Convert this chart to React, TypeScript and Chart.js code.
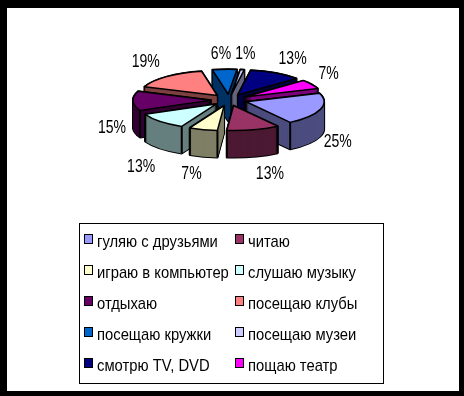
import React, { useEffect, useRef } from "react";
import { Chart, registerables } from "chart.js";

Chart.register(...registerables);

const categories = [
  "гуляю с друзьями", "читаю", "играю в компьютер", "слушаю музыку", "отдыхаю",
  "посещаю клубы", "посещаю кружки", "посещаю музеи", "смотрю TV, DVD", "пощаю театр",
];
const shares = [25, 13, 7, 13, 15, 19, 6, 1, 13, 7];
const topColors = ["#9999FF", "#993366", "#FFFFCC", "#CCFFFF", "#660066", "#FF8080", "#0066CC", "#CCCCFF", "#000080", "#FF00FF"];
const sideColors = ["#4C4C7F", "#4C1933", "#7F7F66", "#667F7F", "#330033", "#7F4040", "#003366", "#66667F", "#000040", "#7F007F"];
const labelNudges = [[4, 4], [13, 13], [-8, 13], [-9, 15.5], [-7, 0], [-12, -11], [-3, -11], [1, -11], [10, -10], [5, -8]];

const SQUASH = 0.32;
const DEPTH = 27;
const EXPLODE = 18;
const LABEL_RADIUS = 110;
const FONT = '"Liberation Sans", Arial, sans-serif';

const pie3d = {
  id: "pie3d",
  beforeDraw(chart: any) {
    const { ctx, width, height } = chart;
    ctx.save();
    ctx.fillStyle = "#000";
    ctx.fillRect(0, 0, width, height);
    ctx.fillStyle = "#fff";
    ctx.fillRect(7, 8, width - 12, height - 13);
    ctx.restore();
  },
  beforeDatasetDraw(chart: any) {
    const { ctx } = chart;
    const arcs = chart.getDatasetMeta(0).data;
    const items = arcs.map((arc: any, i: number) => {
      const { x, y, startAngle, endAngle, outerRadius } = arc.getProps(["x", "y", "startAngle", "endAngle", "outerRadius"], true);
      const mid = (startAngle + endAngle) / 2;
      return { i, x, y, startAngle, endAngle, r: outerRadius, mid };
    });
    items.sort((a: any, b: any) => Math.sin(a.mid) - Math.sin(b.mid));

    const wedge = (it: any, d: number) => {
      const ox = it.x + EXPLODE * Math.cos(it.mid);
      const oy = it.y + EXPLODE * Math.sin(it.mid) * SQUASH + d;
      ctx.beginPath();
      ctx.save();
      ctx.translate(ox, oy);
      ctx.scale(1, SQUASH);
      ctx.moveTo(0, 0);
      ctx.arc(0, 0, it.r, it.startAngle, it.endAngle);
      ctx.closePath();
      ctx.restore();
    };

    ctx.save();
    ctx.lineJoin = "round";
    for (const it of items) {
      ctx.strokeStyle = "#000";
      ctx.lineWidth = 2;
      for (let d = DEPTH; d >= 0; d -= 1) {
        wedge(it, d);
        ctx.stroke();
      }
      ctx.fillStyle = sideColors[it.i];
      for (let d = DEPTH; d >= 0; d -= 1) {
        wedge(it, d);
        ctx.fill();
      }
      const ox = it.x + EXPLODE * Math.cos(it.mid);
      const oy = it.y + EXPLODE * Math.sin(it.mid) * SQUASH;
      for (const a of [it.startAngle, it.endAngle]) {
        if (Math.sin(a) > 0) {
          const px = ox + it.r * Math.cos(a);
          const py = oy + it.r * Math.sin(a) * SQUASH;
          ctx.beginPath();
          ctx.moveTo(px, py);
          ctx.lineTo(px, py + DEPTH);
          ctx.stroke();
        }
      }
      wedge(it, 0);
      ctx.fillStyle = topColors[it.i];
      ctx.fill();
      ctx.lineWidth = 1.5;
      ctx.stroke();
    }
    ctx.restore();
    return false;
  },
  afterDatasetsDraw(chart: any) {
    const { ctx } = chart;
    const arcs = chart.getDatasetMeta(0).data;

    const squeezedText = (text: string, x: number, y: number, sx: number) => {
      ctx.save();
      ctx.translate(x, y);
      ctx.scale(sx, 1);
      ctx.fillText(text, 0, 0);
      ctx.restore();
    };

    ctx.save();
    ctx.fillStyle = "#000";
    ctx.font = `18px ${FONT}`;
    ctx.textAlign = "center";
    ctx.textBaseline = "middle";
    arcs.forEach((arc: any, i: number) => {
      const { x, y, startAngle, endAngle } = arc.getProps(["x", "y", "startAngle", "endAngle"], true);
      const mid = (startAngle + endAngle) / 2;
      const s = Math.sin(mid);
      const lx = x + LABEL_RADIUS * Math.cos(mid) + labelNudges[i][0];
      const ly = y + LABEL_RADIUS * s * SQUASH + (s > 0 ? DEPTH : 0) + labelNudges[i][1];
      squeezedText(`${shares[i]}%`, lx, ly, 0.78);
    });

    const box = { left: 79.5, top: 223.5, right: 383.5, bottom: 383.5 };
    ctx.fillStyle = "#fff";
    ctx.strokeStyle = "#000";
    ctx.lineWidth = 1;
    ctx.fillRect(box.left, box.top, box.right - box.left, box.bottom - box.top);
    ctx.strokeRect(box.left, box.top, box.right - box.left, box.bottom - box.top);
    ctx.font = `17px ${FONT}`;
    ctx.textAlign = "left";
    categories.forEach((name, i) => {
      const col = i % 2;
      const row = Math.floor(i / 2);
      const sx = col === 0 ? 84 : 235;
      const cy = 240 + row * 31;
      ctx.fillStyle = topColors[i];
      ctx.fillRect(sx, cy - 5, 8, 9);
      ctx.strokeStyle = "#000";
      ctx.strokeRect(sx + 0.5, cy - 5.5, 8, 9);
      ctx.fillStyle = "#000";
      squeezedText(name, sx + 13, cy + 2, 0.87);
    });
    ctx.restore();
  },
};

export default function App() {
  const ref = useRef<HTMLCanvasElement>(null);
  useEffect(() => {
    const chart = new Chart(ref.current!, {
      type: "pie",
      data: {
        labels: categories,
        datasets: [{ data: shares, backgroundColor: topColors, radius: 78, rotation: 70 }],
      },
      options: {
        animation: false,
        responsive: false,
        layout: { padding: { left: 0, right: 6, top: 0, bottom: 196 } },
        plugins: { legend: { display: false }, tooltip: { enabled: false } },
      },
      plugins: [pie3d],
    } as any);
    return () => chart.destroy();
  }, []);
  return (
    <canvas
      ref={ref}
      width={464}
      height={396}
      style={{ position: "fixed", left: 0, top: 0, width: 464, height: 396 }}
    />
  );
}
